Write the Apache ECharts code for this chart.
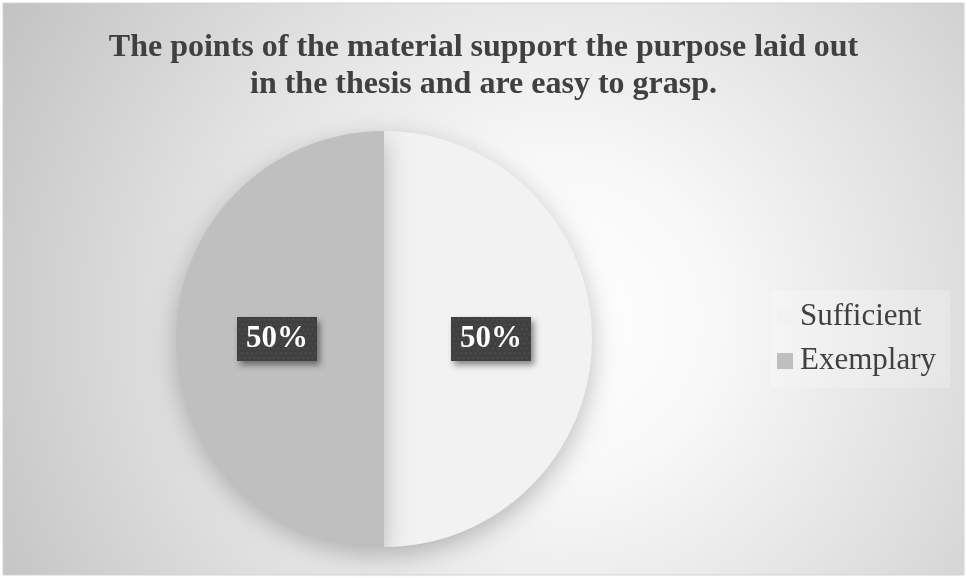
<!DOCTYPE html>
<html>
<head>
<meta charset="utf-8">
<script src="https://cdn.jsdelivr.net/npm/echarts@6/dist/echarts.min.js"></script>
<style>
  html, body { margin: 0; padding: 0; background: #ffffff; }
  #chart { width: 967px; height: 578px; }
</style>
</head>
<body>
<div id="chart"></div>
<script>
// Survey response shares
const categories = ['Sufficient', 'Exemplary'];
const shares = [50, 50];
const sliceColors = ['#f2f2f2', '#bfbfbf'];
const titleText = 'The points of the material support the purpose laid out\nin the thesis and are easy to grasp.';

const serif = '"Liberation Serif", "Times New Roman", serif';

// Dark dotted tile used behind the data labels
function dottedTile(w, h) {
  const c = document.createElement('canvas');
  c.width = w; c.height = h;
  const g = c.getContext('2d');
  g.fillStyle = '#404040';
  g.fillRect(0, 0, w, h);
  g.fillStyle = '#555555';
  for (let y = 2; y < h; y += 5) {
    for (let x = (y % 10 === 2 ? 2 : 4.5); x < w; x += 5) {
      g.fillRect(x, y, 1.5, 1.5);
    }
  }
  return c;
}

const chart = echarts.init(document.getElementById('chart'), null, { renderer: 'canvas' });

chart.setOption({
  backgroundColor: '#ffffff',
  animation: false,
  graphic: [{
    type: 'rect',
    z: -10,
    shape: { x: 3, y: 3, width: 961, height: 572 },
    style: {
      fill: new echarts.graphic.RadialGradient(560, 320, 640, [
        { offset: 0, color: '#ffffff' },
        { offset: 0.25, color: '#f8f8f8' },
        { offset: 0.6, color: '#e0e0e0' },
        { offset: 1, color: '#c2c2c2' }
      ], true),
      stroke: '#d4d4d4',
      lineWidth: 1
    }
  }],
  title: {
    text: titleText,
    left: 'center',
    top: 24,
    textStyle: {
      fontFamily: serif,
      fontSize: 32,
      fontWeight: 'bold',
      color: '#404040',
      lineHeight: 37
    }
  },
  legend: {
    orient: 'vertical',
    left: 771,
    top: 290,
    itemWidth: 16,
    itemHeight: 16,
    itemGap: 10,
    padding: [10, 14, 10, 6],
    backgroundColor: 'rgba(255,255,255,0.22)',
    icon: 'path://M0,0 L16,0 L16,16 L0,16 Z',
    data: categories,
    textStyle: {
      fontFamily: serif,
      fontSize: 31,
      color: '#404040',
      lineHeight: 34,
      padding: [0, 0, 0, 2]
    }
  },
  series: [{
    type: 'pie',
    center: [384, 339],
    radius: [0, 208],
    startAngle: 90,
    clockwise: true,
    silent: true,
    label: {
      show: true,
      position: 'inside',
      formatter: '{d}%',
      fontFamily: serif,
      fontSize: 31,
      fontWeight: 'bold',
      color: '#ffffff',
      backgroundColor: { image: dottedTile(82, 46) },
      padding: [8, 9, 5, 9],
      shadowBlur: 6,
      shadowColor: 'rgba(0,0,0,0.45)',
      shadowOffsetX: 3,
      shadowOffsetY: 4
    },
    labelLine: { show: false },
    itemStyle: {
      shadowBlur: 26,
      shadowColor: 'rgba(0,0,0,0.25)',
      shadowOffsetY: 8
    },
    data: categories.map((name, i) => ({
      name: name,
      value: shares[i],
      itemStyle: { color: sliceColors[i] }
    }))
  }]
});
</script>
</body>
</html>
